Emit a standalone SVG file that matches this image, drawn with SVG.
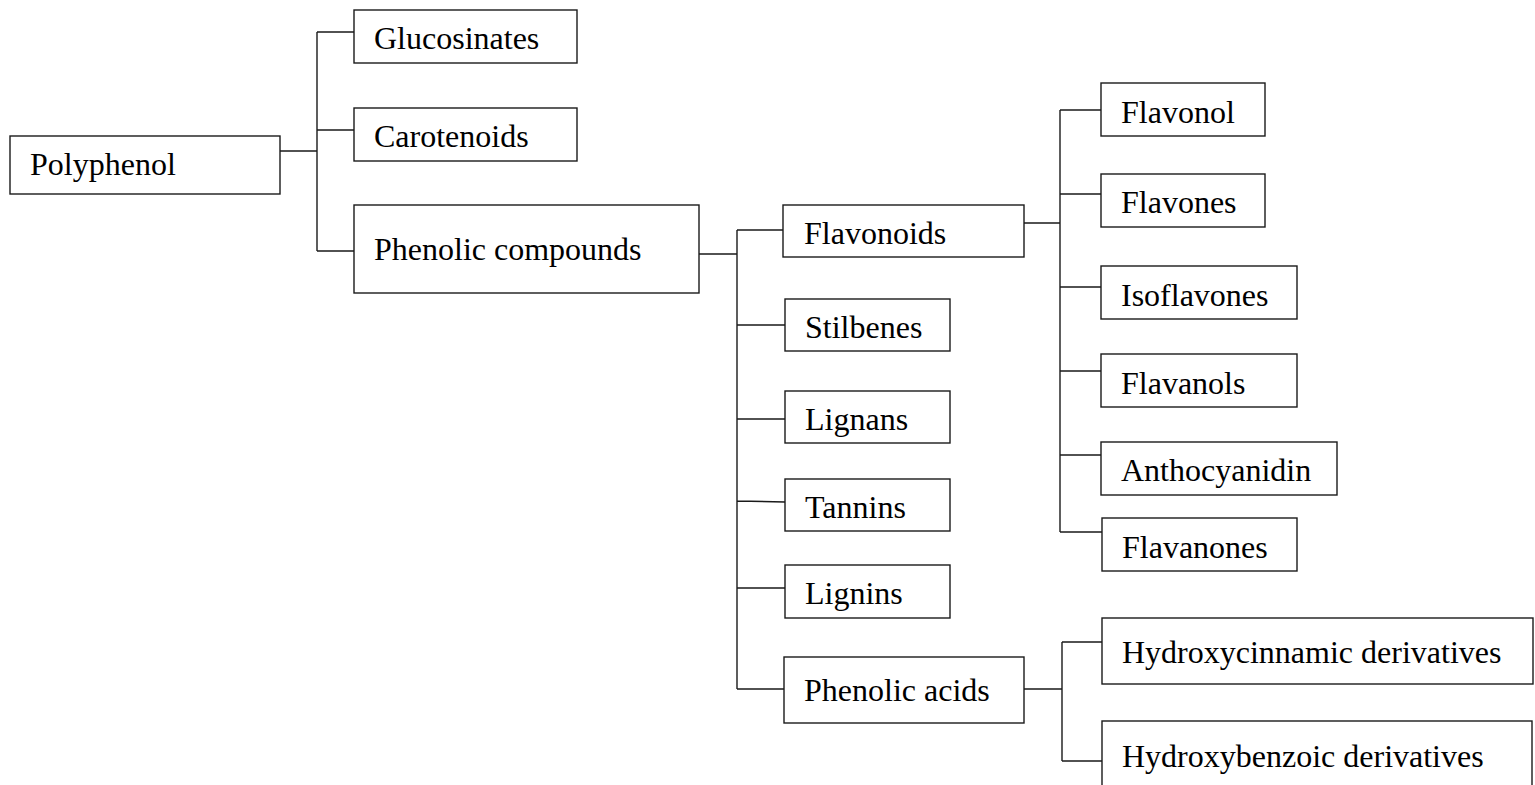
<svg xmlns="http://www.w3.org/2000/svg" width="1535" height="785" viewBox="0 0 1535 785">
<style>
.box{fill:#fff;stroke:#1a1a1a;stroke-width:1.4}
.lbl{font-family:"Liberation Serif","Times New Roman",serif;font-size:32px;fill:#000}
.con{fill:none;stroke:#1a1a1a;stroke-width:1.4}
</style>
<rect width="1535" height="785" fill="#fff"/>
<g id="connectors">
<path class="con" d="M280,151 H317 M317,32 V251 M317,32 H354 M317,130 H354 M317,251 H354"/>
<path class="con" d="M699,254 H737 M737,230 V689 M737,230 H783 M737,325 H785 M737,419 H785 M737,501 L785,502 M737,588 H785 M737,689 H784"/>
<path class="con" d="M1024,223 H1060 M1060,110 V532 M1060,110 H1101 M1060,194 H1101 M1060,287 H1101 M1060,371 H1101 M1060,455 H1101 M1060,532 H1102"/>
<path class="con" d="M1024,689 H1062 M1062,642 V761 M1062,642 H1102 M1062,761 H1102"/>
</g>
<g id="n-polyphenol"><rect class="box" x="10" y="136" width="270" height="58"/><text class="lbl" x="30" y="175">Polyphenol</text></g>
<g id="n-glucosinates"><rect class="box" x="354" y="10" width="223" height="53"/><text class="lbl" x="374" y="49">Glucosinates</text></g>
<g id="n-carotenoids"><rect class="box" x="354" y="108" width="223" height="53"/><text class="lbl" x="374" y="147">Carotenoids</text></g>
<g id="n-phenolic-compounds"><rect class="box" x="354" y="205" width="345" height="88"/><text class="lbl" x="374" y="260">Phenolic compounds</text></g>
<g id="n-flavonoids"><rect class="box" x="783" y="205" width="241" height="52"/><text class="lbl" x="804" y="244">Flavonoids</text></g>
<g id="n-stilbenes"><rect class="box" x="785" y="299" width="165" height="52"/><text class="lbl" x="805" y="338">Stilbenes</text></g>
<g id="n-lignans"><rect class="box" x="785" y="391" width="165" height="52"/><text class="lbl" x="805" y="430">Lignans</text></g>
<g id="n-tannins"><rect class="box" x="785" y="479" width="165" height="52"/><text class="lbl" x="805" y="518">Tannins</text></g>
<g id="n-lignins"><rect class="box" x="785" y="565" width="165" height="53"/><text class="lbl" x="805" y="604">Lignins</text></g>
<g id="n-phenolic-acids"><rect class="box" x="784" y="657" width="240" height="66"/><text class="lbl" x="804" y="701">Phenolic acids</text></g>
<g id="n-flavonol"><rect class="box" x="1101" y="83" width="164" height="53"/><text class="lbl" x="1121" y="123">Flavonol</text></g>
<g id="n-flavones"><rect class="box" x="1101" y="174" width="164" height="53"/><text class="lbl" x="1121" y="213">Flavones</text></g>
<g id="n-isoflavones"><rect class="box" x="1101" y="266" width="196" height="53"/><text class="lbl" x="1121" y="306">Isoflavones</text></g>
<g id="n-flavanols"><rect class="box" x="1101" y="354" width="196" height="53"/><text class="lbl" x="1121" y="394">Flavanols</text></g>
<g id="n-anthocyanidin"><rect class="box" x="1101" y="442" width="236" height="53"/><text class="lbl" x="1121" y="481">Anthocyanidin</text></g>
<g id="n-flavanones"><rect class="box" x="1102" y="518" width="195" height="53"/><text class="lbl" x="1122" y="558">Flavanones</text></g>
<g id="n-hydroxycinnamic"><rect class="box" x="1102" y="618" width="431" height="66"/><text class="lbl" x="1122" y="663">Hydroxycinnamic derivatives</text></g>
<g id="n-hydroxybenzoic"><rect class="box" x="1102" y="721" width="430" height="80"/><text class="lbl" x="1122" y="767">Hydroxybenzoic derivatives</text></g>
</svg>
